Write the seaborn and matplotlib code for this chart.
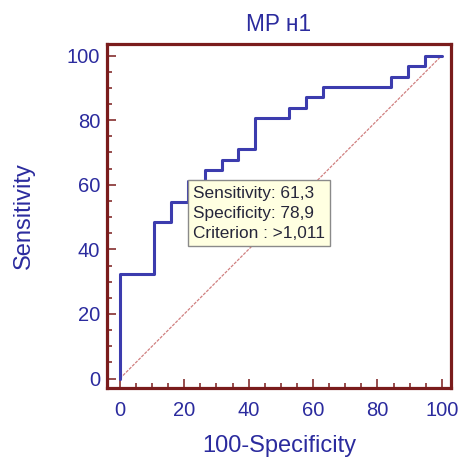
import matplotlib
matplotlib.use("Agg")
import matplotlib.pyplot as plt
import seaborn as sns
import pandas as pd
from matplotlib.ticker import MultipleLocator

# ROC curve vertices (100-Specificity, Sensitivity)
fpr = [0, 0, 10.5, 10.5, 15.8, 15.8, 21.1, 21.1, 26.3, 26.3, 31.6, 31.6,
       36.8, 36.8, 42.1, 42.1, 52.6, 52.6, 57.9, 57.9, 63.2, 63.2,
       84.2, 84.2, 89.5, 89.5, 94.7, 94.7, 100]
tpr = [0, 32.3, 32.3, 48.4, 48.4, 54.8, 54.8, 61.3, 61.3, 64.5, 64.5, 67.7,
       67.7, 71.0, 71.0, 80.6, 80.6, 83.9, 83.9, 87.1, 87.1, 90.3,
       90.3, 93.5, 93.5, 96.8, 96.8, 100, 100]
diag_x = [0, 100]
diag_y = [0, 100]

# optimal criterion
opt_fpr = 21.1
opt_sens = 61.3
opt_spec = 78.9
opt_crit = ">1,011"

title = "MP н1"
xlabel = "100-Specificity"
ylabel = "Sensitivity"
ticks = [0, 20, 40, 60, 80, 100]

sns.set_style("white")
plt.rcParams['font.family'] = ['Liberation Sans', 'DejaVu Sans']

frame_c = "#7a1c1c"
text_c = "#2b2b9e"
curve_c = "#3c3cae"

fig = plt.figure(figsize=(4.61, 4.57), dpi=100)
ax = fig.add_axes([0.232, 0.151, 0.746, 0.753])

roc = pd.DataFrame({"x": fpr, "y": tpr})
dg = pd.DataFrame({"x": diag_x, "y": diag_y})
sns.lineplot(data=dg, x="x", y="y", ax=ax, color="#d08080", lw=0.9,
             linestyle=(0, (2.5, 1.0)), sort=False, estimator=None)
sns.lineplot(data=roc, x="x", y="y", ax=ax, color=curve_c, lw=2.2,
             sort=False, estimator=None, errorbar=None)

ax.set_xlim(-4.0, 102.8)
ax.set_ylim(-2.9, 103.6)
ax.set_xticks(ticks)
ax.set_yticks(ticks)
ax.xaxis.set_minor_locator(MultipleLocator(5))
ax.yaxis.set_minor_locator(MultipleLocator(5))
ax.tick_params(axis="both", which="both", direction="in", color=frame_c,
               labelcolor=text_c, labelsize=14.5, top=False, right=False,
               left=True, bottom=True)
ax.tick_params(which="major", length=6.8, width=1.1)
ax.tick_params(which="minor", length=3.8, width=1.1)
ax.tick_params(axis="x", which="major", pad=9.5)
ax.tick_params(axis="y", which="major", pad=5)

for s in ax.spines.values():
    s.set_color(frame_c)
    s.set_linewidth(2.3)

ax.set_title(title, color=text_c, fontsize=16.3, pad=9.5)
ax.set_xlabel(xlabel, color=text_c, fontsize=17, labelpad=11)
ax.set_ylabel(ylabel, color=text_c, fontsize=17, labelpad=23)

label = (f"Sensitivity: {opt_sens:.1f}".replace(".", ",") + "\n" +
         f"Specificity: {opt_spec:.1f}".replace(".", ",") + "\n" +
         f"Criterion : {opt_crit}")
ax.annotate(label, xy=(opt_fpr, opt_sens), xycoords="data",
            xytext=(3.6, -3.6), textcoords="offset points",
            ha="left", va="top", fontsize=12.4, color="#26263a",
            linespacing=1.42,
            bbox=dict(boxstyle="square,pad=0.3", fc="#ffffe1", ec="#8a8a8a", lw=1.0),
            zorder=5)

fig.savefig("out.png", dpi=100, facecolor="white")
